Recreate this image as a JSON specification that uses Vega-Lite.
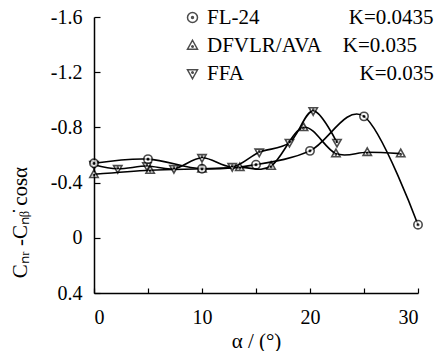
{
  "$schema": "https://vega.github.io/schema/vega-lite/v6.json",
  "width": 324,
  "height": 276,
  "autosize": {"type": "none"},
  "padding": {"left": 94, "top": 17, "right": 17, "bottom": 58},
  "background": "white",
  "config": {"view": {"stroke": null}, "font": "Liberation Serif", "text": {"font": "Liberation Serif"}},
  "data": {
    "values": [
      {"series": "FFA", "alpha": 0, "c": -0.53},
      {"series": "FFA", "alpha": 2.2, "c": -0.50},
      {"series": "FFA", "alpha": 4.9, "c": -0.52},
      {"series": "FFA", "alpha": 7.4, "c": -0.50},
      {"series": "FFA", "alpha": 10, "c": -0.58},
      {"series": "FFA", "alpha": 12.8, "c": -0.515},
      {"series": "FFA", "alpha": 15.3, "c": -0.62},
      {"series": "FFA", "alpha": 18.1, "c": -0.69},
      {"series": "FFA", "alpha": 20.3, "c": -0.92},
      {"series": "FFA", "alpha": 22.5, "c": -0.69},
      {"series": "DFVLR/AVA", "alpha": 0, "c": -0.46},
      {"series": "DFVLR/AVA", "alpha": 5.2, "c": -0.49},
      {"series": "DFVLR/AVA", "alpha": 10, "c": -0.50},
      {"series": "DFVLR/AVA", "alpha": 13.5, "c": -0.51},
      {"series": "DFVLR/AVA", "alpha": 16.4, "c": -0.52},
      {"series": "DFVLR/AVA", "alpha": 19.4, "c": -0.80},
      {"series": "DFVLR/AVA", "alpha": 22.4, "c": -0.61},
      {"series": "DFVLR/AVA", "alpha": 25.3, "c": -0.62},
      {"series": "DFVLR/AVA", "alpha": 28.4, "c": -0.61},
      {"series": "FL-24", "alpha": 0, "c": -0.54},
      {"series": "FL-24", "alpha": 5, "c": -0.57},
      {"series": "FL-24", "alpha": 10, "c": -0.50},
      {"series": "FL-24", "alpha": 15, "c": -0.53},
      {"series": "FL-24", "alpha": 20, "c": -0.63},
      {"series": "FL-24", "alpha": 25, "c": -0.88},
      {"series": "FL-24", "alpha": 30, "c": -0.095}
    ]
  },
  "encoding": {
    "x": {
      "field": "alpha", "type": "quantitative",
      "scale": {"domain": [0, 30], "nice": false, "zero": false},
      "axis": {
        "grid": false, "domainColor": "black", "tickColor": "black",
        "title": "α / (°)", "titleFont": "Liberation Serif", "titleFontSize": 21, "titleFontWeight": "normal", "titlePadding": 3,
        "values": [0, 5, 10, 15, 20, 25, 30],
        "labelExpr": "datum.value % 10 == 0 ? datum.label : ''",
        "labelFont": "Liberation Serif", "labelFontSize": 20, "tickSize": -5, "labelPadding": 19, "domainWidth": 1.5, "tickWidth": 1.2
      }
    },
    "y": {
      "field": "c", "type": "quantitative",
      "scale": {"domain": [-1.6, 0.4], "reverse": true, "nice": false, "zero": false},
      "axis": {
        "grid": false, "domainColor": "black", "tickColor": "black",
        "title": "Cₙᵣ -Cₙᵦ̇  cosα", "titleFont": "Liberation Serif", "titleFontSize": 21, "titleFontWeight": "normal",
        "titleX": -64, "titleY": 205, "titleAlign": "center",
        "values": [-1.6, -1.2, -0.8, -0.4, 0, 0.4],
        "labelExpr": "datum.value < -0.001 ? '-' + format(-datum.value, '.1f') : (abs(datum.value) < 0.001 ? '0' : format(datum.value, '.1f'))",
        "labelFont": "Liberation Serif", "labelFontSize": 20, "tickSize": -6, "labelPadding": 18, "domainWidth": 1.5, "tickWidth": 1.2
      }
    }
  },
  "layer": [
    {
      "mark": {"type": "line", "interpolate": "cardinal", "color": "black", "strokeWidth": 1.6},
      "encoding": {"detail": {"field": "series"}}
    },
    {
      "mark": {"type": "point", "filled": true, "fill": "white", "stroke": "black", "strokeWidth": 1.6, "size": 70},
      "encoding": {
        "shape": {
          "field": "series", "type": "nominal",
          "scale": {
            "domain": ["FL-24", "DFVLR/AVA", "FFA"],
            "range": [
              "M-1,0A1,1 0 1,1 1,0A1,1 0 1,1 -1,0ZM-0.18,0A0.18,0.18 0 1,1 0.18,0A0.18,0.18 0 1,1 -0.18,0Z",
              "M0,-1.05L1,0.75L-1,0.75ZM-0.15,0.2A0.15,0.15 0 1,1 0.15,0.2A0.15,0.15 0 1,1 -0.15,0.2Z",
              "M0,1.05L1,-0.75L-1,-0.75ZM-0.15,-0.2A0.15,0.15 0 1,1 0.15,-0.2A0.15,0.15 0 1,1 -0.15,-0.2Z"
            ]
          },
          "legend": {
            "title": null, "orient": "none", "legendX": 88, "legendY": -10,
            "labelFont": "Liberation Serif", "labelFontSize": 21, "labelLimit": 400, "rowPadding": 6,
            "labelExpr": "datum.label == 'FL-24' ? 'FL-24\u00a0\u00a0\u00a0\u00a0\u00a0\u00a0\u00a0\u00a0\u00a0\u00a0\u00a0\u00a0\u00a0\u00a0\u00a0\u00a0\u00a0K=0.0435' : (datum.label == 'FFA' ? 'FFA\u00a0\u00a0\u00a0\u00a0\u00a0\u00a0\u00a0\u00a0\u00a0\u00a0\u00a0\u00a0\u00a0\u00a0\u00a0\u00a0\u00a0\u00a0\u00a0\u00a0\u00a0\u00a0K=0.035' : 'DFVLR/AVA\u00a0\u00a0\u00a0\u00a0K=0.035')",
            "encode": {"symbols": {"update": {"fill": {"value": "white"}, "stroke": {"value": "black"}}}}
          }
        }
      }
    }
  ]
}
